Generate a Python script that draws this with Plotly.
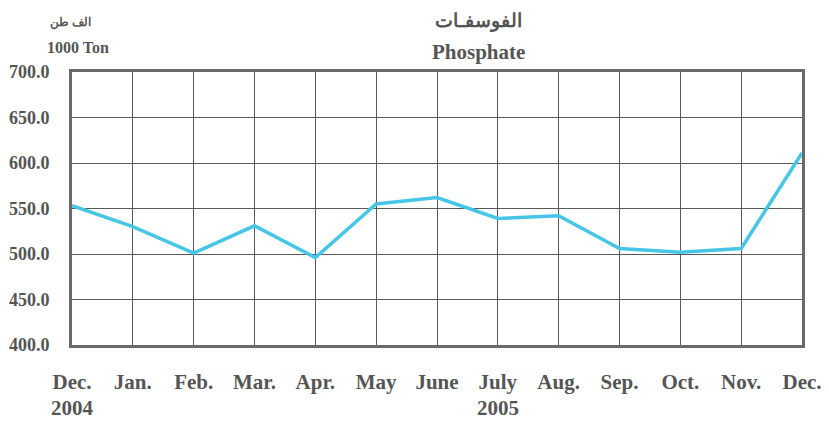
import plotly.graph_objects as go

months = ["Dec.", "Jan.", "Feb.", "Mar.", "Apr.", "May", "June", "July",
          "Aug.", "Sep.", "Oct.", "Nov.", "Dec."]
values = [553, 530, 501, 531, 496, 555, 562, 539, 542, 506, 502, 506, 611]
y_ticks = [400, 450, 500, 550, 600, 650, 700]
y_labels = ["400.0", "450.0", "500.0", "550.0", "600.0", "650.0", "700.0"]
years = [("2004", 0), ("2005", 7)]

xs = list(range(len(months)))
font_fam = "Liberation Serif"
txt_col = "#555555"

fig = go.Figure()
fig.add_trace(go.Scatter(x=xs, y=values, mode="lines",
                         line=dict(color="#45c6e6", width=3.5), hoverinfo="skip"))

# page body has an 8px margin; compensate so the plot sits where the reference's does
fig.update_layout(
    width=821, height=416,
    margin=dict(l=64, r=27, t=64, b=79, autoexpand=False),
    paper_bgcolor="white", plot_bgcolor="white",
    showlegend=False,
    font=dict(family=font_fam, color=txt_col),
)
fig.update_xaxes(range=[0, 12], tickvals=xs, ticktext=["<b>%s</b>" % m for m in months],
                 showgrid=True, gridcolor="#5a5a5a", gridwidth=1.3,
                 showline=True, linecolor="#6a6a6a", linewidth=3, mirror=True,
                 ticks="outside", ticklen=16, tickcolor="rgba(0,0,0,0)",
                 tickfont=dict(size=21, family=font_fam, color=txt_col), zeroline=False,
                 automargin=False)
fig.update_yaxes(range=[400, 700], tickvals=y_ticks, ticktext=["<b>%s</b>" % t for t in y_labels],
                 showgrid=True, gridcolor="#5a5a5a", gridwidth=1.3,
                 showline=True, linecolor="#6a6a6a", linewidth=3, mirror=True,
                 ticks="outside", ticklen=16, tickcolor="rgba(0,0,0,0)",
                 tickfont=dict(size=18, family=font_fam, color=txt_col), zeroline=False,
                 automargin=False)

for yr, idx in years:
    fig.add_annotation(x=idx, y=0, xref="x", yref="paper", yshift=-63, yanchor="middle",
                       text="<b>%s</b>" % yr, showarrow=False,
                       font=dict(size=21, family=font_fam, color=txt_col))

fig.add_annotation(x=0.5575, y=1, xref="paper", yref="paper", yshift=51, yanchor="middle",
                   text="<b>الفوسفـات</b>",
                   showarrow=False, font=dict(size=19, family=font_fam, color=txt_col))
fig.add_annotation(x=0.5575, y=1, xref="paper", yref="paper", yshift=20, yanchor="middle",
                   text="<b>Phosphate</b>",
                   showarrow=False, font=dict(size=21, family=font_fam, color=txt_col))
fig.add_annotation(x=0, y=1, xref="paper", yref="paper", xshift=-24, yshift=50, yanchor="middle",
                   text="<b>الف طن</b>",
                   showarrow=False, font=dict(size=12, family=font_fam, color=txt_col))
fig.add_annotation(x=0, y=1, xref="paper", yref="paper", xshift=-27, yshift=25, yanchor="middle",
                   text="<b>1000 Ton</b>",
                   showarrow=False, font=dict(size=16, family=font_fam, color=txt_col))

fig.write_html("out.html")
